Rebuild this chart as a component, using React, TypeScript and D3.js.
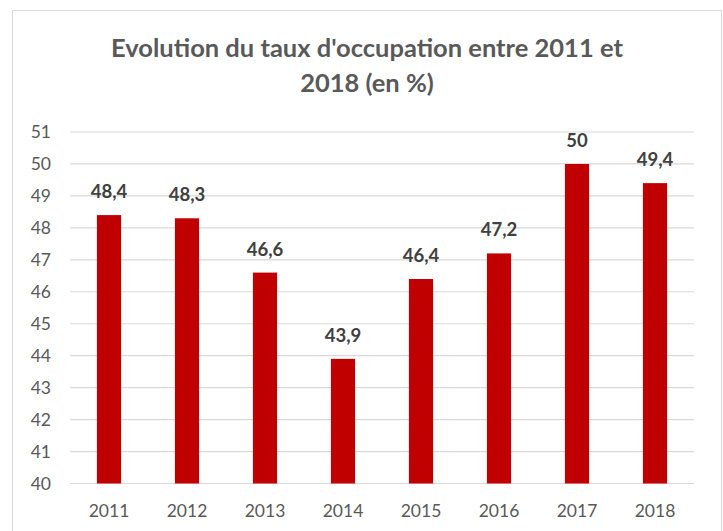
import * as d3 from "d3";

const years = ["2011", "2012", "2013", "2014", "2015", "2016", "2017", "2018"];
const rates = [48.4, 48.3, 46.6, 43.9, 46.4, 47.2, 50, 49.4];
const yTicks = [40, 41, 42, 43, 44, 45, 46, 47, 48, 49, 50, 51];
const titleLines = ["Evolution du taux d'occupation entre 2011 et", "2018 (en %)"];

const W = 723;
const H = 531;
const left = 70;
const right = 694;
const top = 132;
const bottom = 483.5;

const App = () => {
  const x = d3.scaleBand().domain(years).range([left, right]).paddingInner(0.69).paddingOuter(0.345);
  const y = d3.scaleLinear().domain([40, 51]).range([bottom, top]);
  const fmt = (v: number) => String(v).replace(".", ",");
  const font = "Lato, 'Open Sans', sans-serif";

  return (
    <svg width={W} height={H} style={{ position: "absolute", left: 0, top: 0 }}>
      <rect x={0} y={0} width={W} height={H} fill="#fff" />
      <rect x={12.5} y={10.5} width={709} height={540} fill="#fff" stroke="#d9d9d9" />
      {titleLines.map((t, i) => (
        <text key={i} x={367} y={57 + i * 35} textAnchor="middle" fontFamily={font}
          fontWeight="bold" fontSize={25.5} fill="#595959">{t}</text>
      ))}
      {yTicks.map((t) => (
        <g key={t}>
          <line x1={left} x2={right} y1={y(t)} y2={y(t)} stroke="#d9d9d9" strokeWidth={1.2} />
          <text x={51} y={y(t)} dy="0.35em" textAnchor="end" fontFamily={font}
            fontSize={17.5} fill="#595959">{t}</text>
        </g>
      ))}
      {years.map((yr, i) => (
        <g key={yr}>
          <rect x={x(yr)} y={y(rates[i])} width={x.bandwidth()} height={bottom - y(rates[i])} fill="#c00000" />
          <text x={x(yr)! + x.bandwidth() / 2} y={y(rates[i]) - 17} textAnchor="middle" fontFamily={font}
            fontWeight="bold" fontSize={18.5} fill="#404040">{fmt(rates[i])}</text>
          <text x={x(yr)! + x.bandwidth() / 2} y={517} textAnchor="middle" fontFamily={font}
            fontSize={17.5} fill="#595959">{yr}</text>
        </g>
      ))}
    </svg>
  );
};

export default App;
